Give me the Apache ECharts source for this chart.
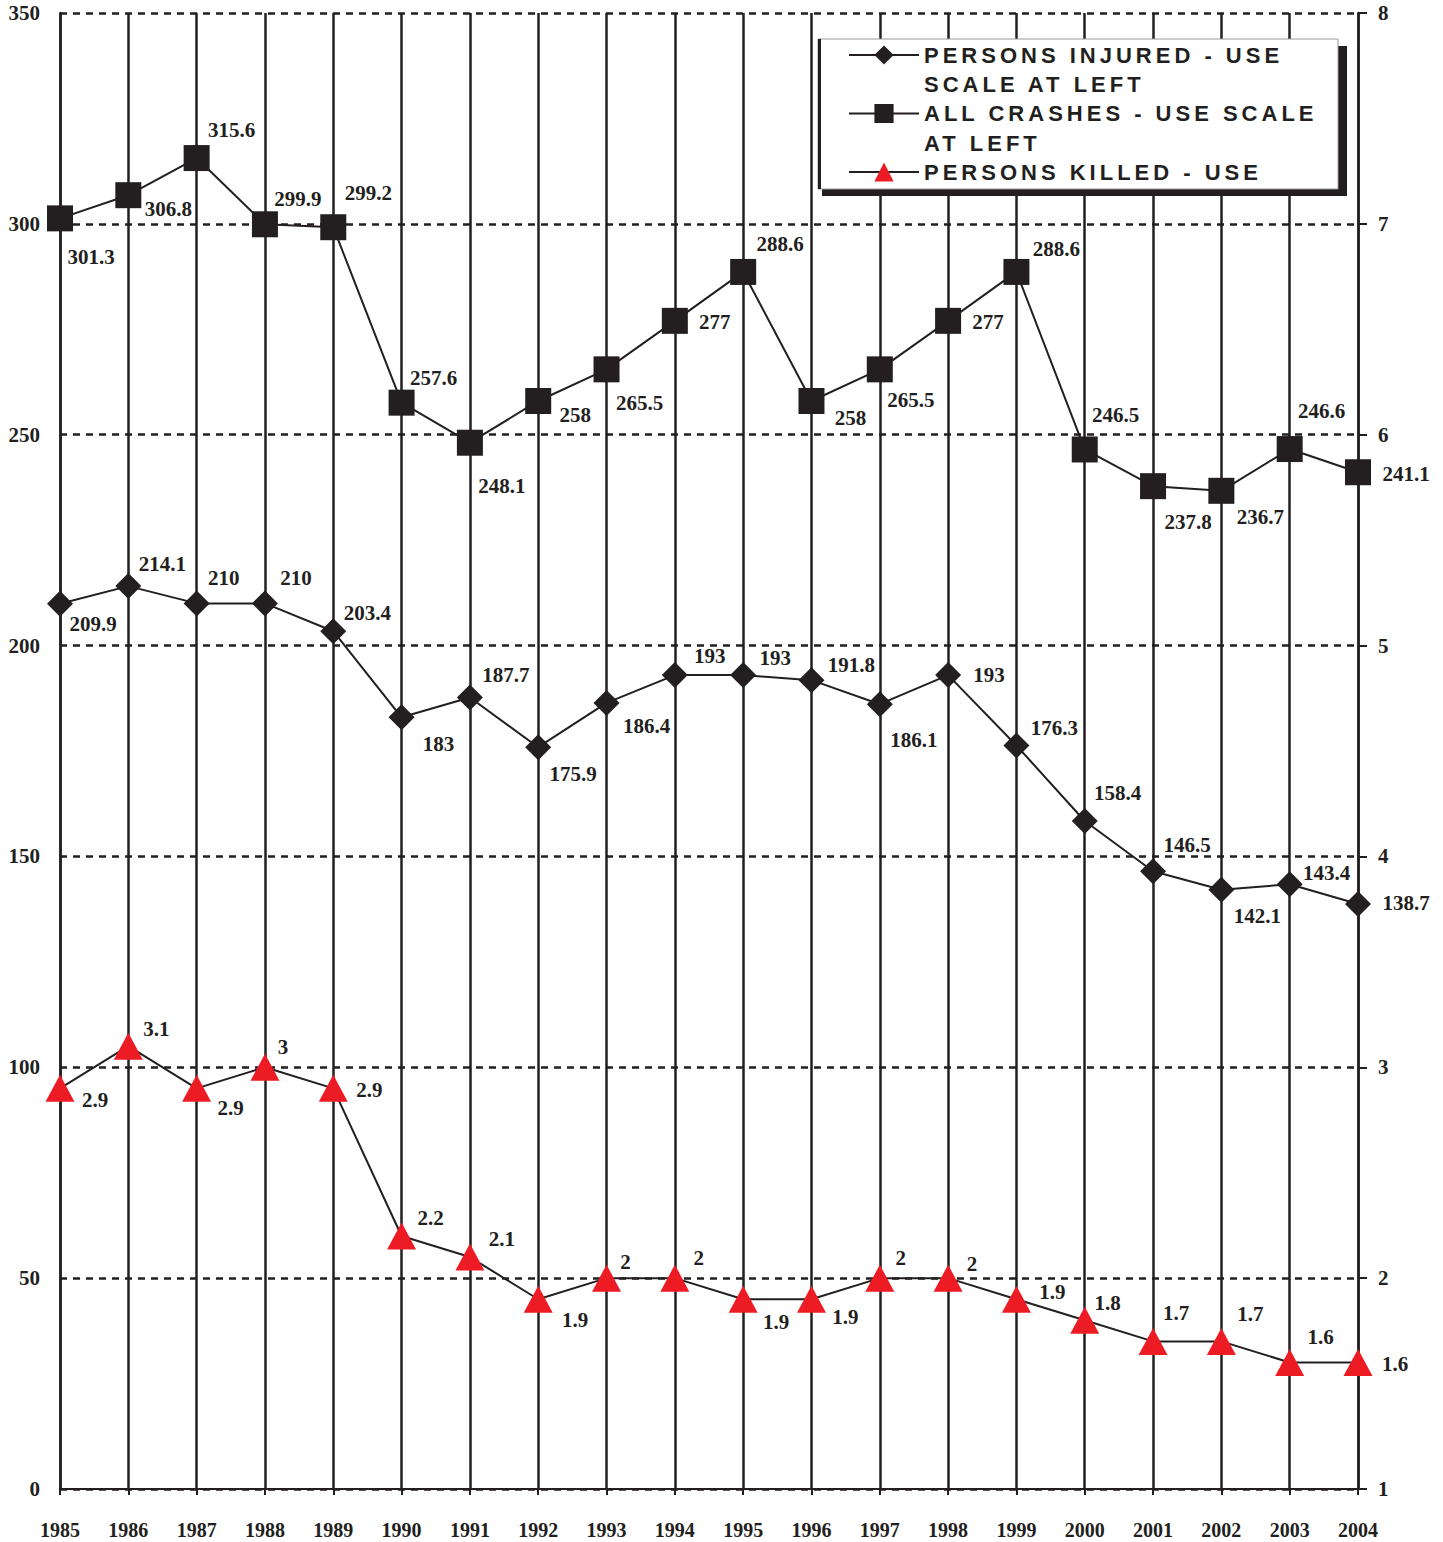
<!DOCTYPE html>
<html>
<head>
<meta charset="utf-8">
<script src="https://cdn.jsdelivr.net/npm/echarts@6/dist/echarts.min.js"></script>
<style>
html,body{margin:0;padding:0;background:#ffffff;}
#chart{width:1443px;height:1542px;}
#chart text[style*="Liberation Sans"]{letter-spacing:4px;}
</style>
</head>
<body>
<div id="chart"></div>
<script>
// ---- data ----
const years = ['1985','1986','1987','1988','1989','1990','1991','1992','1993','1994','1995','1996','1997','1998','1999','2000','2001','2002','2003','2004'];
const allCrashes = [301.3,306.8,315.6,299.9,299.2,257.6,248.1,258,265.5,277,288.6,258,265.5,277,288.6,246.5,237.8,236.7,246.6,241.1];
const personsInjured = [209.9,214.1,210,210,203.4,183,187.7,175.9,186.4,193,193,191.8,186.1,193,176.3,158.4,146.5,142.1,143.4,138.7];
const personsKilled = [2.9,3.1,2.9,3,2.9,2.2,2.1,1.9,2,2,1.9,1.9,2,2,1.9,1.8,1.7,1.7,1.6,1.6];
const leftScale = {min:0, max:350, interval:50};
const rightScale = {min:1, max:8, interval:1};
const seriesNames = ['PERSONS INJURED - USE SCALE AT LEFT','ALL CRASHES - USE SCALE AT LEFT','PERSONS KILLED - USE'];
const legendLines = [['PERSONS INJURED - USE','SCALE AT LEFT'],['ALL CRASHES - USE SCALE','AT LEFT'],['PERSONS KILLED - USE']];

// ---- label placement (styling only) ----
const crashLabelOffset = [[31,39],[40,14],[35,-28],[33,-25],[35,-34],[32,-25],[32,43],[37,14],[33,34],[40,1],[37,-28],[39,17],[31,31],[40,1],[40,-23],[31,-34],[35,36],[39,26],[32,-38],[48,2]];
const injuredLabelOffset = [[33,20],[34,-22],[27,-25],[31,-25],[34,-18],[37,27],[36,-22],[35,27],[40,23],[35,-19],[32,-17],[40,-15],[34,36],[41,0],[38,-18],[33,-28],[34,-26],[36,26],[37,-11],[48,-1]];
const killedLabelOffset = [[35,12],[28,-17],[34,20],[18,-20],[36,2],[29,-18],[32,-18],[37,21],[19,-16],[24,-20],[33,23],[34,18],[21,-20],[24,-14],[36,-7],[23,-17],[23,-28],[29,-27],[31,-25],[37,2]];

const INK = '#231f20';
const RED = '#ed1c24';
const serif = 'Liberation Serif';

function withOffsets(values, offsets){
  return values.map((v,i)=>({value:v, label:{offset:offsets[i]}}));
}
const labelBase = {
  show:true, position:'inside', color:INK, fontFamily:serif, fontWeight:'bold', fontSize:21,
  textBorderWidth:0, formatter: p => String(p.value)
};

// legend text: a three-line block centred on the icon, so the first visible line sits on the icon
function legendLabel(name){
  const lines = legendLines[seriesNames.indexOf(name)];
  return ['\u00a0', lines[0], lines[1] || '\u00a0'].join('\n');
}

const chart = echarts.init(document.getElementById('chart'), null, {renderer:'svg'});
const LH = 29.5;

chart.setOption({
  animation:false,
  backgroundColor:'#ffffff',
  grid:{left:60, right:85, top:13, bottom:53, containLabel:false, outerBoundsMode:'none'},
  legend:{
    orient:'vertical', left:848, top:10.75, padding:0, itemGap:-30,
    itemWidth:70, itemHeight:24, z:20,
    data:seriesNames,
    formatter: legendLabel,
    textStyle:{color:INK, fontFamily:'Liberation Sans', fontWeight:'bold', fontSize:22, lineHeight:LH},
    selectedMode:false
  },
  graphic:[
    {type:'rect', z:10, silent:true, shape:{x:822, y:46, width:525, height:150}, style:{fill:INK}},
    {type:'rect', z:11, silent:true, shape:{x:818, y:39, width:520, height:150}, style:{fill:'#ffffff', stroke:'#9a9a9a', lineWidth:1}},
    {type:'line', z:12, silent:true, shape:{x1:819.5, y1:39, x2:819.5, y2:189}, style:{stroke:INK, lineWidth:3}}
  ],
  xAxis:{
    type:'category', data:years, boundaryGap:false,
    axisLine:{show:true, lineStyle:{color:INK, width:2}},
    axisTick:{show:true, inside:false, length:6, lineStyle:{color:INK, width:2}},
    axisLabel:{margin:31, color:INK, fontFamily:serif, fontWeight:'bold', fontSize:20, interval:0},
    splitLine:{show:true, interval:0, lineStyle:{color:INK, width:2.5}}
  },
  yAxis:[
    {
      type:'value', position:'left', min:leftScale.min, max:leftScale.max, interval:leftScale.interval,
      axisLine:{show:true, lineStyle:{color:INK, width:2.5}},
      axisTick:{show:false},
      axisLabel:{margin:20, color:INK, fontFamily:serif, fontWeight:'bold', fontSize:21},
      splitLine:{show:true, lineStyle:{color:INK, width:2.5, type:[7,6]}}
    },
    {
      type:'value', position:'right', min:rightScale.min, max:rightScale.max, interval:rightScale.interval,
      axisLine:{show:true, lineStyle:{color:INK, width:2.5}},
      axisTick:{show:true, inside:false, length:9, lineStyle:{color:INK, width:2}},
      axisLabel:{margin:20, color:INK, fontFamily:serif, fontWeight:'bold', fontSize:21},
      splitLine:{show:false}
    }
  ],
  series:[
    {
      name:seriesNames[0], type:'line', yAxisIndex:0, data:withOffsets(personsInjured, injuredLabelOffset),
      symbol:'diamond', symbolSize:26, showAllSymbol:true,
      itemStyle:{color:INK}, lineStyle:{color:INK, width:2},
      label:labelBase, z:3
    },
    {
      name:seriesNames[1], type:'line', yAxisIndex:0, data:withOffsets(allCrashes, crashLabelOffset),
      symbol:'rect', symbolSize:26, showAllSymbol:true,
      itemStyle:{color:INK}, lineStyle:{color:INK, width:2},
      label:labelBase, z:3
    },
    {
      name:seriesNames[2], type:'line', yAxisIndex:1, data:withOffsets(personsKilled, killedLabelOffset),
      symbol:'triangle', symbolSize:[29,27], showAllSymbol:true,
      itemStyle:{color:RED}, lineStyle:{color:INK, width:2},
      label:labelBase, z:3
    }
  ]
});
</script>
</body>
</html>
